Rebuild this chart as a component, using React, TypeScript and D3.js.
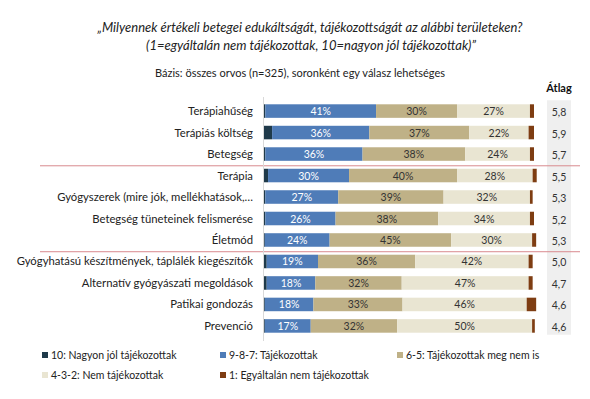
import React from 'react';
import * as d3 from 'd3';

const categories = [
  'Terápiahűség',
  'Terápiás költség',
  'Betegség',
  'Terápia',
  'Gyógyszerek (mire jók, mellékhatások,…',
  'Betegség tüneteinek felismerése',
  'Életmód',
  'Gyógyhatású készítmények, táplálék kiegészítők',
  'Alternatív gyógyászati megoldások',
  'Patikai gondozás',
  'Prevenció'
];

const s10 = [0.5, 3, 0.5, 1.5, 0.5, 0.5, 0.3, 1, 1, 0.3, 0.3];
const s987 = [41, 36, 36, 30, 27, 26, 24, 19, 18, 18, 17];
const s65 = [30, 37, 38, 40, 39, 38, 45, 36, 32, 33, 32];
const s432 = [27, 22, 24, 28, 32, 34, 30, 42, 47, 46, 50];
const s1 = [1.5, 2, 1.5, 1.5, 1, 1.5, 1.5, 1.5, 1.5, 3.5, 1];
const avg = ['5,8', '5,9', '5,7', '5,5', '5,3', '5,2', '5,3', '5,0', '4,7', '4,6', '4,6'];

const seriesNames = [
  '10: Nagyon jól tájékozottak',
  '9-8-7: Tájékozottak',
  '6-5: Tájékozottak meg nem is',
  '4-3-2: Nem tájékozottak',
  '1: Egyáltalán nem tájékozottak'
];
const colors = ['#1f3a4a', '#4f7cb8', '#bfb187', '#e9e5d2', '#7e3d12'];
const seriesData = [s10, s987, s65, s432, s1];

// groups are split after these rows
const separators = [3, 7];

const width = 590;
const height = 399;

const x = d3.scaleLinear().domain([0, 100]).range([264, 534]);
const y = d3
  .scaleBand()
  .domain(categories)
  .range([100, 337])
  .paddingInner(0.37)
  .paddingOuter(0.2);

const rows = categories.map((c, i) => {
  const vals = seriesData.map(s => s[i]);
  const stack = d3.cumsum(vals);
  return vals.map((v, k) => ({ cat: c, k, v, x0: stack[k] - v, x1: stack[k] }));
});

const font = 'Lato, "Open Sans", sans-serif';

export default function App() {
  const bw = y.bandwidth();
  const step = y.step();
  return (
    <svg width={width} height={height} style={{ display: 'block', margin: '-8px', fontFamily: font }}>
      <rect width={width} height={height} fill="#fff" />
      <text x={310} y={32} textAnchor="middle" fontSize={13} fontStyle="italic" fill="#222">
        „Milyennek értékeli betegei edukáltságát, tájékozottságát az alábbi területeken?
      </text>
      <text x={311} y={50} textAnchor="middle" fontSize={13} fontStyle="italic" fill="#222">
        (1=egyáltalán nem tájékozottak, 10=nagyon jól tájékozottak)”
      </text>
      <text x={300} y={77} textAnchor="middle" fontSize={11} fill="#222">
        Bázis: összes orvos (n=325), soronként egy válasz lehetséges
      </text>
      <text x={559} y={92} textAnchor="middle" fontSize={11} fontWeight="bold" fill="#111">
        Átlag
      </text>

      <rect x={547} y={y(categories[0])! - 4} width={24} height={y(categories[10])! + bw + 6 - y(categories[0])!} fill="#efefef" />

      {separators.map(i => {
        const yy = y(categories[i])! - (step - bw) / 2 + 1;
        return <line key={i} x1={40} x2={580} y1={yy} y2={yy} stroke="#d98a8f" strokeWidth={1} />;
      })}

      <line x1={263.5} x2={263.5} y1={97} y2={341} stroke="#d9d9d9" />

      {rows.map((segs, i) => (
        <g key={i}>
          <text x={253} y={y(categories[i])! + bw / 2 + 4} textAnchor="end" fontSize={11.3} fill="#222">
            {categories[i]}
          </text>
          {segs.map(s => (
            <rect
              key={s.k}
              x={x(s.x0)}
              y={y(s.cat)}
              width={x(s.x1) - x(s.x0)}
              height={bw}
              fill={colors[s.k]}
            />
          ))}
          {segs
            .filter(s => s.k >= 1 && s.k <= 3)
            .map(s => (
              <text
                key={'l' + s.k}
                x={(x(s.x0) + x(s.x1)) / 2}
                y={y(s.cat)! + bw / 2 + 4}
                textAnchor="middle"
                fontSize={10.5}
                fill={s.k === 1 ? '#fff' : '#333'}
              >
                {Math.round(s.v)}%
              </text>
            ))}
          <text x={559} y={y(categories[i])! + bw / 2 + 5} textAnchor="middle" fontSize={10.5} fill="#333">
            {avg[i]}
          </text>
        </g>
      ))}

      {seriesNames.map((n, k) => {
        const col = k < 3 ? k : k - 3;
        const row = k < 3 ? 0 : 1;
        const lx = [42, 220, 397][col];
        const ly = 355 + row * 20;
        return (
          <g key={n}>
            <rect x={lx} y={ly - 3} width={6} height={6} fill={colors[k]} />
            <text x={lx + 9} y={ly + 4} fontSize={10.5} fill="#222">
              {n}
            </text>
          </g>
        );
      })}
    </svg>
  );
}
